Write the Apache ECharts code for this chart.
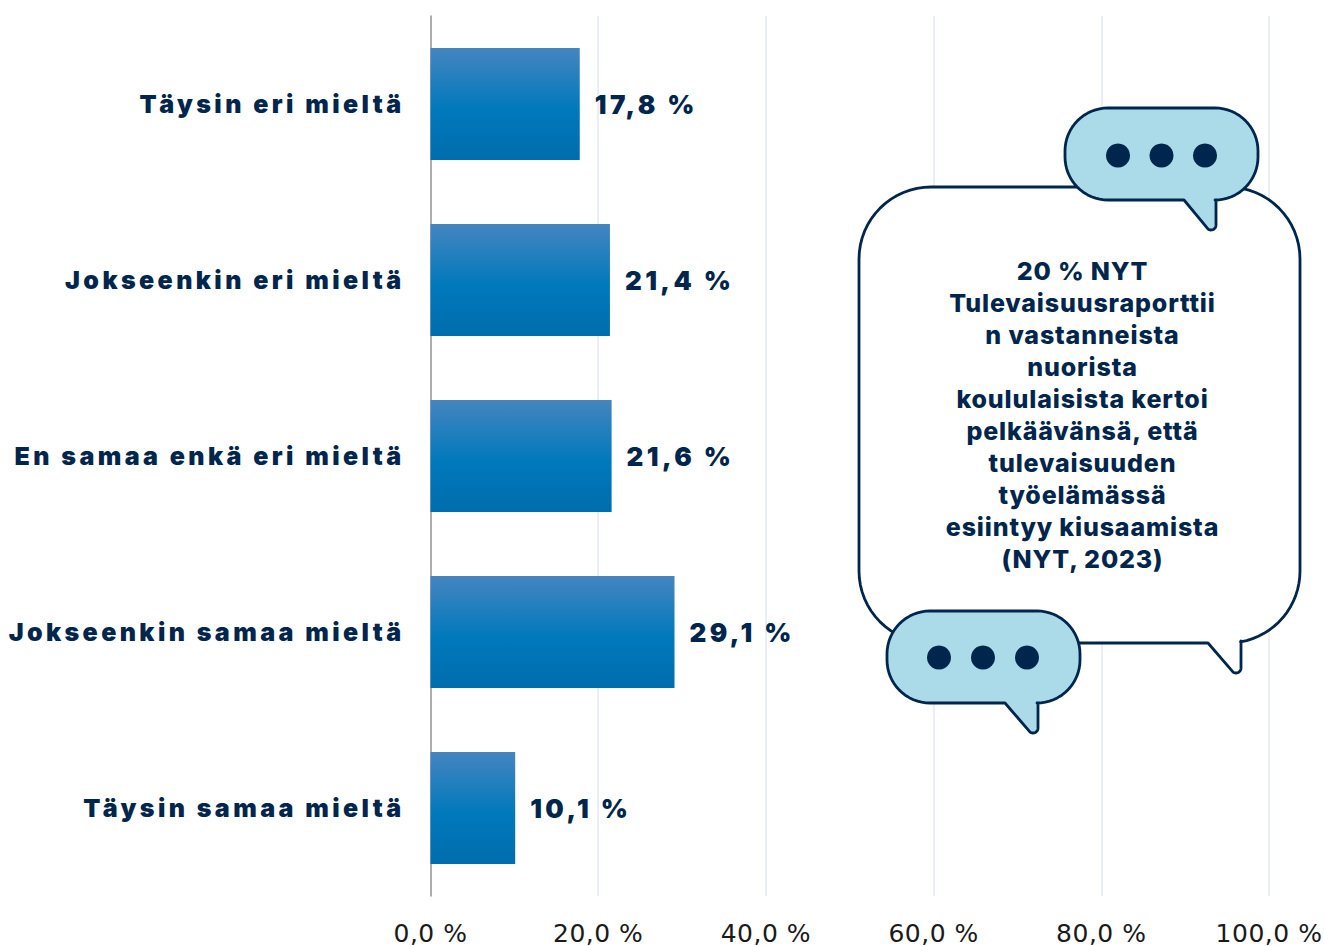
<!DOCTYPE html>
<html><head><meta charset="utf-8">
<style>
html,body{margin:0;padding:0;background:#fff;overflow:hidden}
#c{width:1324px;height:946px}
svg text[style*="900"]{letter-spacing:3.4px}
svg text[style*="800"]{letter-spacing:0.85px}
svg text[style*="DejaVu"]{letter-spacing:0.5px}
</style>
<script src="https://cdn.jsdelivr.net/npm/echarts@6/dist/echarts.min.js"></script>
</head><body><div id="c"></div>
<script>
const categories=["Täysin eri mieltä","Jokseenkin eri mieltä","En samaa enkä eri mieltä","Jokseenkin samaa mieltä","Täysin samaa mieltä"];
const values=[17.8,21.4,21.6,29.1,10.1];
const calloutLines=["20 % NYT","Tulevaisuusraporttii","n vastanneista","nuorista","koululaisista kertoi","pelkäävänsä, että","tulevaisuuden","työelämässä","esiintyy kiusaamista","(NYT, 2023)"];
const navy="#00264D", lightBlue="#ABDBE9";
const pct=v=>v.toFixed(1).replace('.',',')+' %';

function arc(pts,cx,cy,r,a0,a1){const n=16;for(let i=0;i<=n;i++){const a=(a0+(a1-a0)*i/n)*Math.PI/180;pts.push([cx+r*Math.cos(a),cy+r*Math.sin(a)]);}}
function bubble(x,y,w,h,r,t){
  const b=y+h,R=x+w,p=[];
  arc(p,x+r,y+r,r,180,270);
  arc(p,R-r,y+r,r,270,360);
  if(t.rr){arc(p,R-r,b-r,r,0,t.stop);}else{arc(p,R-r,b-r,r,0,90);}
  p.push([t.xr,b-(t.rr||0)]);
  arc(p,t.xr-5,b+t.len-6,5,0,125);
  p.push([t.xl,b]);
  arc(p,x+r,b-r,r,90,180);
  return p;
}
function balloon(shape,fill,z){return {type:'polygon',z:z,shape:{points:shape},style:{fill:fill,stroke:navy,lineWidth:2.8,lineJoin:'round'}};}
function dots(xs,y,z){return xs.map(x=>({type:'circle',z:z,shape:{cx:x,cy:y,r:12},style:{fill:navy}}));}

const graphics=[
  balloon(bubble(859,187,441,456,72,{xl:1208,xr:1241,len:31,rr:2,stop:80}),'#fff',10),
  {type:'text',z:11,x:1082.5,y:255,style:{text:calloutLines.join('\n'),font:'800 25px Inter',fill:navy,align:'center',verticalAlign:'top',lineHeight:32}},
  balloon(bubble(1065,108,193,92,43,{xl:1184,xr:1216,len:31}),lightBlue,12),
  ...dots([1118,1161.5,1205],155.5,13),
  balloon(bubble(887,611,193,92,43,{xl:1005,xr:1038,len:31}),lightBlue,14),
  ...dots([939,983,1027],657.5,15)
];

const chart=echarts.init(document.getElementById('c'),null,{renderer:'svg'});
chart.setOption({
  animation:false,
  grid:{left:430.5,right:55,top:16,bottom:50,outerBoundsMode:'none'},
  xAxis:{type:'value',min:0,max:100,interval:20,
    axisLine:{show:false},axisTick:{show:false},
    splitLine:{lineStyle:{color:'#E3EAF3',width:1.5}},
    axisLabel:{formatter:pct,margin:24.5,fontFamily:'DejaVu Sans',fontSize:25,color:'#1a1a1a',hideOverlap:false,showMinLabel:true,showMaxLabel:true,alignMinLabel:'center',alignMaxLabel:'center'}},
  yAxis:{type:'category',inverse:true,data:categories,
    axisLine:{show:true,onZero:false,lineStyle:{color:'#999',width:1.5}},axisTick:{show:false},splitLine:{show:false},
    axisLabel:{margin:26,fontFamily:'Inter',fontWeight:900,fontSize:25,color:navy}},
  series:[{type:'bar',data:values,barWidth:112,
    itemStyle:{color:new echarts.graphic.LinearGradient(0,0,0,1,[{offset:0,color:'#4585BF'},{offset:0.55,color:'#0079BC'},{offset:1,color:'#006DAE'}])},
    label:{show:true,position:'right',distance:15,formatter:p=>pct(p.value),fontFamily:'Inter',fontWeight:900,fontSize:26,color:navy}}],
  graphic:graphics
});
</script></body></html>
